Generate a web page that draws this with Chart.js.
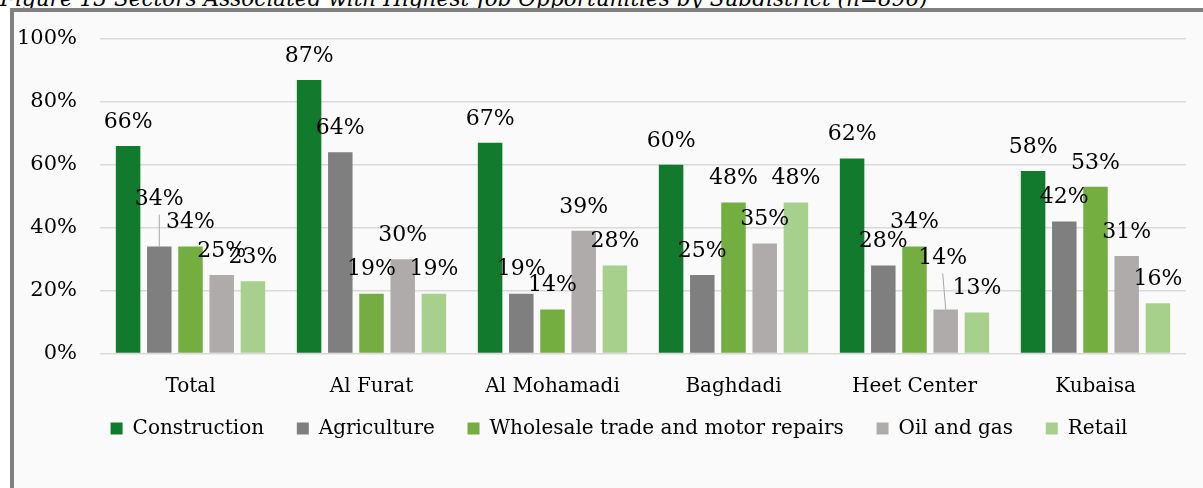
<!DOCTYPE html>
<html>
<head>
<meta charset="utf-8">
<script src="https://cdn.jsdelivr.net/npm/chart.js@4/dist/chart.umd.min.js"></script>
<style>
  html, body { margin: 0; padding: 0; background: #ffffff; overflow: hidden; }
  body { width: 1203px; height: 488px; position: relative; }
  #title {
    position: absolute; left: 0; top: -12px;
    font: italic 21.6px "DejaVu Serif", serif; line-height: 21.6px;
    color: #000; white-space: nowrap;
  }
  #frame {
    position: absolute; left: 10px; top: 8px; width: 1189px; height: 476px;
    border-top: 4px solid #808080; border-left: 4px solid #808080;
    background: #fafafa; overflow: hidden;
  }
  canvas { display: block; }
</style>
</head>
<body>
<div id="title">Figure 13 Sectors Associated with Highest Job Opportunities by Subdistrict (n=896)</div>
<div id="frame"><canvas id="chart" width="1210" height="476"></canvas></div>
<script>
// Subdistricts on the x axis
var categories = ["Total", "Al Furat", "Al Mohamadi", "Baghdadi", "Heet Center", "Kubaisa"];

// Share of respondents naming each sector (%)
var construction = [66, 87, 67, 60, 62, 58];
var agriculture = [34, 64, 19, 25, 28, 42];
var wholesale = [34, 19, 14, 48, 34, 53];
var oilGas = [25, 30, 39, 35, 14, 31];
var retail = [23, 19, 28, 48, 13, 16];

var yTicks = [0, 20, 40, 60, 80, 100];

var FONT = "DejaVu Serif";

// draws the value labels above each bar, a few pulled up with a leader line
var barLabels = {
  id: "barLabels",
  afterDatasetsDraw: function(chart, args, opts) {
    var ctx = chart.ctx;
    ctx.save();
    ctx.font = opts.size + "px '" + FONT + "'";
    ctx.fillStyle = "#000";
    ctx.textAlign = "center";
    ctx.textBaseline = "middle";
    chart.data.datasets.forEach(function(ds, di) {
      chart.getDatasetMeta(di).data.forEach(function(bar, i) {
        var extra = opts.lifted[di + ":" + i];
        var lift = extra ? extra.lift : 0;
        var dx = extra ? extra.dx : 0;
        var x = bar.x + dx;
        var y = bar.y - opts.offset - lift;
        if (extra) {
          ctx.strokeStyle = "#a6a6a6";
          ctx.lineWidth = 1;
          ctx.beginPath();
          ctx.moveTo(bar.x, bar.y);
          ctx.lineTo(x, y + 15);
          ctx.stroke();
        }
        ctx.fillText(ds.data[i] + "%", x, y);
      });
    });
    ctx.restore();
  }
};

function makeSet(label, data, color) {
  return {
    label: label,
    data: data,
    backgroundColor: color,
    categoryPercentage: 0.862,
    barPercentage: 0.785
  };
}

var chart = new Chart(document.getElementById("chart").getContext("2d"), {
  type: "bar",
  data: {
    labels: categories,
    datasets: [
      makeSet("Construction", construction, "#117a2d"),
      makeSet("Agriculture", agriculture, "#7f7f7f"),
      makeSet("Wholesale trade and motor repairs", wholesale, "#74ad40"),
      makeSet("Oil and gas", oilGas, "#afabab"),
      makeSet("Retail", retail, "#a8d08d")
    ]
  },
  plugins: [barLabels],
  options: {
    responsive: false,
    animation: false,
    layout: { padding: { top: 27, right: 0, left: 0, bottom: 39.5 } },
    scales: {
      y: {
        min: 0,
        max: 100,
        afterFit: function(scale) { scale.width = 86; },
        afterBuildTicks: function(scale) {
          scale.ticks = yTicks.map(function(v) { return { value: v }; });
        },
        ticks: {
          padding: 0,
          color: "#000",
          font: { family: FONT, size: 21 },
          callback: function(v) { return v + "%"; }
        },
        grid: {
          color: "#d9d9d9",
          lineWidth: 1.5,
          drawTicks: true,
          tickLength: 23,
          tickColor: "rgba(0,0,0,0)"
        },
        border: { display: false }
      },
      // empty right-hand axis, only keeps room so the legend sits where it should
      spare: {
        type: "linear",
        position: "right",
        afterFit: function(scale) { scale.width = 38; },
        ticks: { display: false },
        grid: { display: false },
        border: { display: false }
      },
      x: {
        afterFit: function(scale) { scale.height = 45; },
        ticks: {
          padding: 21,
          color: "#000",
          font: { family: FONT, size: 20 }
        },
        grid: { display: false, drawTicks: false },
        border: { display: false }
      }
    },
    plugins: {
      legend: {
        position: "bottom",
        labels: {
          boxWidth: 12,
          boxHeight: 12,
          padding: 20,
          color: "#000",
          font: { family: FONT, size: 20 },
          generateLabels: function(chart) {
            var items = Chart.defaults.plugins.legend.labels.generateLabels(chart);
            items.forEach(function(item, i) {
              if (i < items.length - 1) item.text = item.text + "  ";
            });
            return items;
          }
        }
      },
      tooltip: { enabled: false },
      barLabels: {
        size: 22,
        offset: 24,
        lifted: {
          "1:0": { lift: 23, dx: 0 },
          "3:4": { lift: 27, dx: -3 }
        }
      }
    }
  }
});
</script>
</body>
</html>
